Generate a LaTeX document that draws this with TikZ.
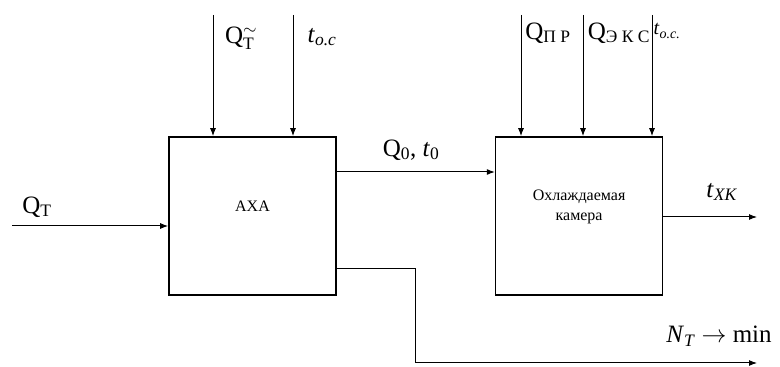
\documentclass[tikz,border=0pt]{standalone}
\usepackage{fontspec}
\setmainfont{Liberation Serif}
\usepackage{tikz}
\usetikzlibrary{positioning, arrows.meta, calc}
\tikzset{
  blk/.style={rectangle, draw, line width=1.6pt, inner sep=0pt,
              minimum width=167pt, minimum height=158pt},
  arr/.style={-{Latex[length=8pt, width=6pt]}, line width=1pt},
  lbl/.style={font=\fontsize{25}{29}\selectfont, inner sep=0pt},
  txt/.style={font=\fontsize{16}{20}\selectfont, align=center, inner sep=0pt},
}

\begin{document}
\begin{tikzpicture}[x=1pt, y=1pt, node distance=158pt]
  \useasboundingbox (0,0) rectangle (780,367);
  % blocks
  \node[blk] (axa) at (252.5,151) {};
  \node[blk, right=of axa] (cam) {};
  \node[txt] (axatxt) at ($(axa.center)+(0,10)$) {АХА};
  \node[txt] (camtxt) at ($(cam.center)+(0,9)$) {Охлаждаемая\\камера};
  % free ends
  \coordinate (qt) at (12,141);
  \coordinate (qtt) at (213,352);
  \coordinate (toc1) at (293,352);
  \coordinate (qpr) at (521,352);
  \coordinate (qeks) at (583,352);
  \coordinate (toc2) at (652,352);
  \coordinate (q0) at (336,195);
  \coordinate (txk) at (757,150);
  \coordinate (nt0) at (336,98);
  \coordinate (ntb) at (415,4);
  \coordinate (nte) at (757,4);
  % connectors
  \draw[arr] (qt) -- (qt -| axa.west);
  \draw[arr] (qtt) -- (qtt |- axa.north);
  \draw[arr] (toc1) -- (toc1 |- axa.north);
  \draw[arr] (qpr) -- (qpr |- cam.north);
  \draw[arr] (qeks) -- (qeks |- cam.north);
  \draw[arr] (toc2) -- (toc2 |- cam.north);
  \draw[arr] (q0) -- (q0 -| cam.west);
  \draw[arr] (txk -| cam.east) -- (txk);
  \draw[arr] (nt0) -| (ntb) -- (nte);
  % labels
  \node[lbl] (lqt) at (37,160) {Q\textsubscript{Т}};
  \node[lbl] (lqtt) at (241,329) {Q$^{\sim}_{\mathrm{Т}}$};
  \node[lbl] (ltoc1) at (322,330) {\textit{t}\textsubscript{\textit{o.c}}};
  \node[lbl] (lq0) at (411,217) {Q\textsubscript{0}, \textit{t}\textsubscript{0}};
  \node[lbl] (lqpr) at (548,334) {Q\textsubscript{П Р}};
  \node[lbl] (lqeks) at (619,334) {Q\textsubscript{Э К С}};
  \node[lbl, font=\fontsize{20}{23}\selectfont] (ltoc2) at (667,336) {\textit{t}\textsubscript{\textit{o.c.}}};
  \node[lbl] (ltxk) at (722,175) {\textit{t}\textsubscript{\textit{XK}}};
  \node[lbl] (lnt) at (719,31) {\textit{N}\textsubscript{\textit{T}} $\rightarrow$ min};
\end{tikzpicture}
\end{document}
